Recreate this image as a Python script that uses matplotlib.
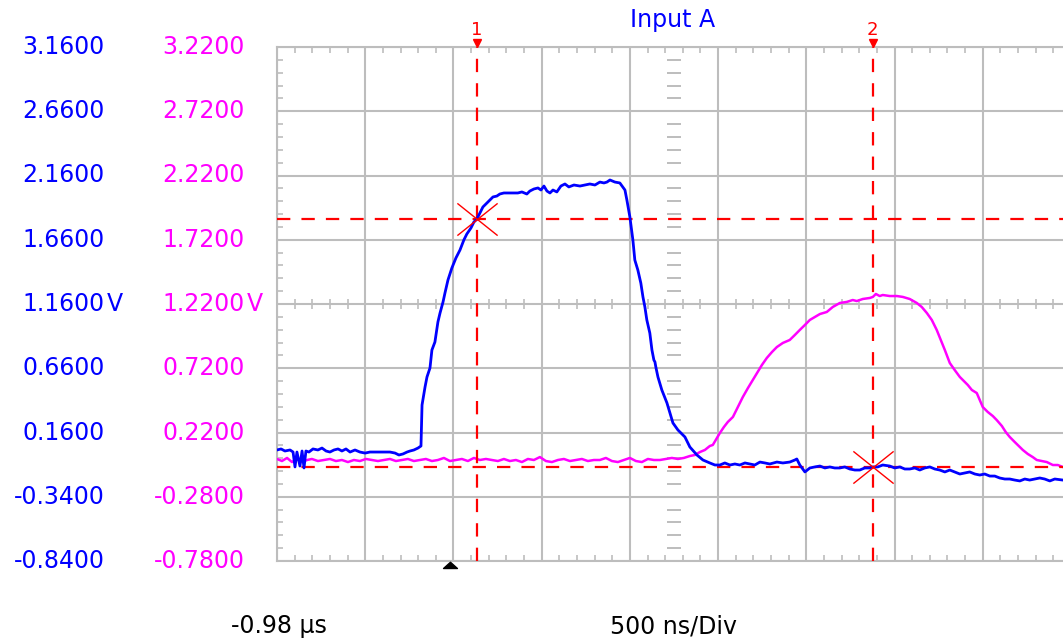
import numpy as np
import matplotlib
matplotlib.use('Agg')
import matplotlib.pyplot as plt
from matplotlib.path import Path
from matplotlib.transforms import blended_transform_factory

# Input A (blue), time in us, volts
blue_t = [-0.980, -0.957, -0.935, -0.906, -0.889, -0.878, -0.867, -0.850, -0.838, -0.827,
          -0.816, -0.799, -0.776, -0.748, -0.725, -0.702, -0.680, -0.657, -0.634, -0.612,
          -0.589, -0.566, -0.538, -0.510, -0.481, -0.453, -0.425, -0.396, -0.368, -0.340,
          -0.311, -0.289, -0.266, -0.243, -0.226, -0.204, -0.181, -0.164, -0.158, -0.141,
          -0.130, -0.113, -0.102, -0.085, -0.068, -0.056, -0.039, -0.028, -0.011, 0.011,
          0.034, 0.057, 0.079, 0.096, 0.119, 0.136, 0.153, 0.170, 0.187, 0.210,
          0.227, 0.244, 0.266, 0.283, 0.306, 0.323, 0.351, 0.385, 0.408, 0.436,
          0.453, 0.476, 0.499, 0.516, 0.533, 0.550, 0.567, 0.584, 0.606, 0.629,
          0.652, 0.674, 0.703, 0.737, 0.765, 0.793, 0.822, 0.850, 0.873, 0.890,
          0.907, 0.935, 0.963, 0.992, 1.003, 1.020, 1.037, 1.048, 1.065, 1.082,
          1.094, 1.105, 1.116, 1.133, 1.145, 1.156, 1.162, 1.167, 1.179, 1.201,
          1.230, 1.247, 1.264, 1.292, 1.332, 1.360, 1.400, 1.434, 1.473, 1.502,
          1.530, 1.558, 1.587, 1.615, 1.643, 1.672, 1.700, 1.728, 1.757, 1.785,
          1.813, 1.853, 1.887, 1.926, 1.955, 1.966, 1.983, 2.012, 2.040, 2.068,
          2.097, 2.125, 2.153, 2.181, 2.210, 2.238, 2.266, 2.295, 2.323, 2.351,
          2.380, 2.397, 2.425, 2.453, 2.493, 2.521, 2.550, 2.578, 2.606, 2.635,
          2.663, 2.691, 2.720, 2.748, 2.776, 2.805, 2.833, 2.861, 2.890, 2.918,
          2.946, 2.975, 3.003, 3.031, 3.060, 3.088, 3.116, 3.145, 3.173, 3.201,
          3.230, 3.258, 3.286, 3.315, 3.343, 3.371, 3.400, 3.428, 3.473]
blue_v = [0.024, 0.032, 0.016, 0.024, 0.008, -0.108, 0.008, -0.101, 0.016, -0.116,
          0.016, 0.008, 0.032, 0.024, 0.039, 0.016, 0.008, 0.024, 0.032, 0.016,
          0.032, 0.008, 0.024, 0.008, 0.000, 0.008, 0.008, 0.008, 0.008, 0.008,
          0.000, -0.015, -0.007, 0.008, 0.016, 0.024, 0.039, 0.055, 0.374, 0.514,
          0.592, 0.662, 0.802, 0.864, 1.020, 1.090, 1.176, 1.246, 1.347, 1.440,
          1.518, 1.580, 1.658, 1.705, 1.751, 1.798, 1.821, 1.868, 1.915, 1.946,
          1.969, 1.993, 2.000, 2.016, 2.024, 2.024, 2.024, 2.024, 2.032, 2.016,
          2.039, 2.055, 2.063, 2.047, 2.078, 2.039, 2.024, 2.047, 2.032, 2.078,
          2.094, 2.071, 2.086, 2.078, 2.086, 2.094, 2.086, 2.109, 2.102, 2.109,
          2.125, 2.109, 2.102, 2.047, 1.969, 1.837, 1.658, 1.502, 1.425, 1.323,
          1.215, 1.137, 1.036, 0.934, 0.802, 0.724, 0.709, 0.670, 0.592, 0.491,
          0.390, 0.312, 0.234, 0.180, 0.125, 0.047, -0.015, -0.054, -0.077, -0.093,
          -0.093, -0.077, -0.093, -0.085, -0.093, -0.077, -0.085, -0.093, -0.070, -0.077,
          -0.085, -0.070, -0.077, -0.070, -0.054, -0.046, -0.093, -0.147, -0.116, -0.108,
          -0.101, -0.116, -0.108, -0.116, -0.116, -0.108, -0.124, -0.132, -0.132, -0.116,
          -0.116, -0.108, -0.108, -0.093, -0.101, -0.116, -0.108, -0.124, -0.124, -0.116,
          -0.132, -0.116, -0.108, -0.124, -0.132, -0.147, -0.132, -0.147, -0.163, -0.155,
          -0.147, -0.163, -0.171, -0.163, -0.179, -0.179, -0.194, -0.202, -0.202, -0.210,
          -0.217, -0.202, -0.210, -0.202, -0.194, -0.202, -0.217, -0.202, -0.210]

# second channel (magenta), time in us, volts
mag_t = [-0.980, -0.952, -0.923, -0.895, -0.867, -0.838, -0.810, -0.782, -0.748, -0.714,
         -0.680, -0.646, -0.612, -0.578, -0.544, -0.510, -0.476, -0.442, -0.408, -0.374,
         -0.340, -0.306, -0.272, -0.238, -0.204, -0.170, -0.136, -0.102, -0.068, -0.034,
         0.000, 0.034, 0.068, 0.102, 0.136, 0.170, 0.204, 0.238, 0.272, 0.306,
         0.340, 0.374, 0.408, 0.442, 0.476, 0.510, 0.544, 0.578, 0.612, 0.646,
         0.680, 0.714, 0.748, 0.782, 0.816, 0.850, 0.884, 0.918, 0.952, 0.986,
         1.020, 1.054, 1.088, 1.122, 1.156, 1.190, 1.224, 1.258, 1.292, 1.326,
         1.360, 1.388, 1.417, 1.445, 1.473, 1.490, 1.507, 1.530, 1.553, 1.575,
         1.604, 1.632, 1.660, 1.689, 1.717, 1.745, 1.768, 1.796, 1.825, 1.853,
         1.887, 1.926, 1.955, 1.983, 2.012, 2.040, 2.068, 2.097, 2.136, 2.170,
         2.210, 2.249, 2.283, 2.306, 2.340, 2.380, 2.397, 2.414, 2.436, 2.453,
         2.493, 2.533, 2.567, 2.606, 2.646, 2.674, 2.703, 2.731, 2.759, 2.782,
         2.805, 2.833, 2.861, 2.890, 2.907, 2.935, 2.958, 2.986, 3.003, 3.020,
         3.048, 3.077, 3.099, 3.128, 3.150, 3.173, 3.201, 3.230, 3.247, 3.275,
         3.303, 3.326, 3.354, 3.383, 3.417, 3.445, 3.473]
mag_v = [0.014, -0.002, 0.022, -0.010, 0.014, -0.010, 0.006, 0.014, -0.002, 0.006,
         0.014, -0.002, 0.006, -0.010, 0.006, -0.002, 0.014, 0.006, -0.002, 0.006,
         0.014, -0.002, 0.006, 0.014, -0.002, 0.006, 0.014, -0.002, 0.006, 0.022,
         -0.002, 0.006, 0.014, -0.002, 0.022, 0.006, 0.014, 0.006, -0.002, 0.014,
         -0.002, 0.006, -0.010, 0.014, 0.006, 0.029, -0.002, -0.010, 0.006, 0.014,
         -0.002, 0.006, 0.014, -0.002, 0.006, 0.006, 0.022, -0.002, -0.010, 0.006,
         0.022, -0.002, -0.010, 0.014, 0.006, 0.006, 0.014, 0.022, 0.014, 0.022,
         0.037, 0.045, 0.068, 0.084, 0.115, 0.123, 0.162, 0.216, 0.263, 0.302,
         0.341, 0.418, 0.496, 0.566, 0.629, 0.691, 0.745, 0.800, 0.846, 0.885,
         0.917, 0.940, 0.979, 1.018, 1.057, 1.096, 1.119, 1.142, 1.158, 1.197,
         1.228, 1.236, 1.251, 1.243, 1.259, 1.267, 1.275, 1.298, 1.282, 1.290,
         1.282, 1.282, 1.275, 1.259, 1.228, 1.197, 1.150, 1.096, 1.018, 0.940,
         0.862, 0.761, 0.706, 0.652, 0.629, 0.590, 0.551, 0.527, 0.473, 0.418,
         0.380, 0.348, 0.317, 0.271, 0.224, 0.185, 0.146, 0.107, 0.084, 0.053,
         0.029, 0.006, -0.002, -0.010, -0.033, -0.033, -0.048]

# cursors (time us, Input A volts)
cursor_t = [0.153, 2.397]
cursor_v = [1.821, -0.108]
cursor_names = ['1', '2']

blue_labels = ['3.1600', '2.6600', '2.1600', '1.6600', '1.1600', '0.6600', '0.1600', '-0.3400', '-0.8400']
blue_ticks = [3.16, 2.66, 2.16, 1.66, 1.16, 0.66, 0.16, -0.34, -0.84]
mag_labels = ['3.2200', '2.7200', '2.2200', '1.7200', '1.2200', '0.7200', '0.2200', '-0.2800', '-0.7800']
mag_ticks = [3.22, 2.72, 2.22, 1.72, 1.22, 0.72, 0.22, -0.28, -0.78]

BLUE = '#0000ff'
MAG = '#ff00ff'
RED = '#ff0000'
GRAY = '#bdbdbd'
FS = 17

W, H = 1063, 639
fig = plt.figure(figsize=(W / 100, H / 100), dpi=100)
rect = [277 / W, 1 - 561 / H, (1071 - 277) / W, 514 / H]
ax_m = fig.add_axes(rect)
ax_b = fig.add_axes(rect, sharex=ax_m)
ax_b.patch.set_visible(False)
ax_b.axis('off')

t0, t1 = -0.98, 3.52
ax_m.set_xlim(t0, t1)
ax_m.set_ylim(mag_ticks[-1], mag_ticks[0])
ax_b.set_ylim(blue_ticks[-1], blue_ticks[0])

# graticule
major_x = np.linspace(t0, t1, 10)
minor_x = np.linspace(t0, t1, 46)
major_y = np.linspace(mag_ticks[-1], mag_ticks[0], 9)
minor_y = np.linspace(mag_ticks[-1], mag_ticks[0], 41)
ax_m.set_xticks(major_x)
ax_m.set_xticks(minor_x, minor=True)
ax_m.set_yticks(major_y)
ax_m.set_yticks(minor_y, minor=True)
ax_m.tick_params(which='major', length=0, labelbottom=False, labelleft=False)
ax_m.tick_params(axis='x', which='minor', direction='in', top=True, bottom=True,
                 length=4, width=1.2, color=GRAY)
ax_m.tick_params(axis='y', which='minor', direction='in', left=True, right=False,
                 length=4, width=1.2, color=GRAY)
ax_m.grid(True, which='major', color=GRAY, lw=1.5)
ax_m.set_axisbelow(True)
for s in ax_m.spines.values():
    s.set_color(GRAY)
    s.set_linewidth(1.5)

# centre-line tick marks
mid_v = mag_ticks[4]
mid_t = t0 + 4.5 * 0.5
ax_m.plot(minor_x, np.full_like(minor_x, mid_v), ls='none', marker='|', ms=7,
          mew=1.2, color=GRAY, zorder=1)
sub_y = minor_y[np.arange(len(minor_y)) % 5 != 0]
ax_m.plot(np.full_like(sub_y, mid_t), sub_y, ls='none', marker='_', ms=10,
          mew=1.4, color=GRAY, zorder=1)

# traces
ax_m.plot(mag_t, mag_v, color=MAG, lw=1.8, zorder=3)
ax_b.plot(blue_t, blue_v, color=BLUE, lw=2.0, zorder=3)

# cursors
dash = (0, (6, 5))
for t in cursor_t:
    ax_b.axvline(t, color=RED, ls=dash, lw=1.6, zorder=2)
for v in cursor_v:
    ax_b.axhline(v, color=RED, ls=dash, lw=1.6, zorder=2)
xmark = Path([(-1, -0.8), (1, 0.8), (-1, 0.8), (1, -0.8)],
             [Path.MOVETO, Path.LINETO, Path.MOVETO, Path.LINETO])
ax_b.plot(cursor_t, cursor_v, ls='none', marker=xmark, ms=29, mfc='none',
          mec=RED, mew=1.0, zorder=4)

top_tr = blended_transform_factory(ax_b.transData, ax_b.transAxes)
for t, name in zip(cursor_t, cursor_names):
    ax_b.text(t, 1.033, name, transform=top_tr, ha='center', va='center',
              color=RED, fontsize=13)
ax_b.plot(cursor_t, [1.008] * len(cursor_t), transform=top_tr, ls='none',
          marker='v', ms=6, color=RED, clip_on=False)
# trigger point
trig = Path([(-1, 0), (1, 0), (0, 0.9), (-1, 0)],
            [Path.MOVETO, Path.LINETO, Path.LINETO, Path.CLOSEPOLY])
ax_b.plot([0.0], [-0.014], transform=top_tr, ls='none', marker=trig, ms=10,
          color='black', clip_on=False)

# channel scales
tr_b = blended_transform_factory(fig.transFigure, ax_b.transData)
tr_m = blended_transform_factory(fig.transFigure, ax_m.transData)
for v, lab in zip(blue_ticks, blue_labels):
    ax_b.text(105 / W, v, lab, transform=tr_b, ha='right', va='center',
              color=BLUE, fontsize=FS, clip_on=False)
for v, lab in zip(mag_ticks, mag_labels):
    ax_m.text(245 / W, v, lab, transform=tr_m, ha='right', va='center',
              color=MAG, fontsize=FS, clip_on=False)
ax_b.text(107 / W, blue_ticks[4], 'V', transform=tr_b, ha='left', va='center',
          color=BLUE, fontsize=FS)
ax_m.text(247 / W, mag_ticks[4], 'V', transform=tr_m, ha='left', va='center',
          color=MAG, fontsize=FS)

fig.text(673 / W, 1 - 20 / H, 'Input A', ha='center', va='center', color=BLUE, fontsize=FS)
fig.text(279 / W, 1 - 626 / H, '-0.98 µs', ha='center', va='center', color='black', fontsize=FS)
fig.text(674 / W, 1 - 626 / H, '500 ns/Div', ha='center', va='center', color='black', fontsize=FS)

fig.savefig('out.png', dpi=100, facecolor='white')
